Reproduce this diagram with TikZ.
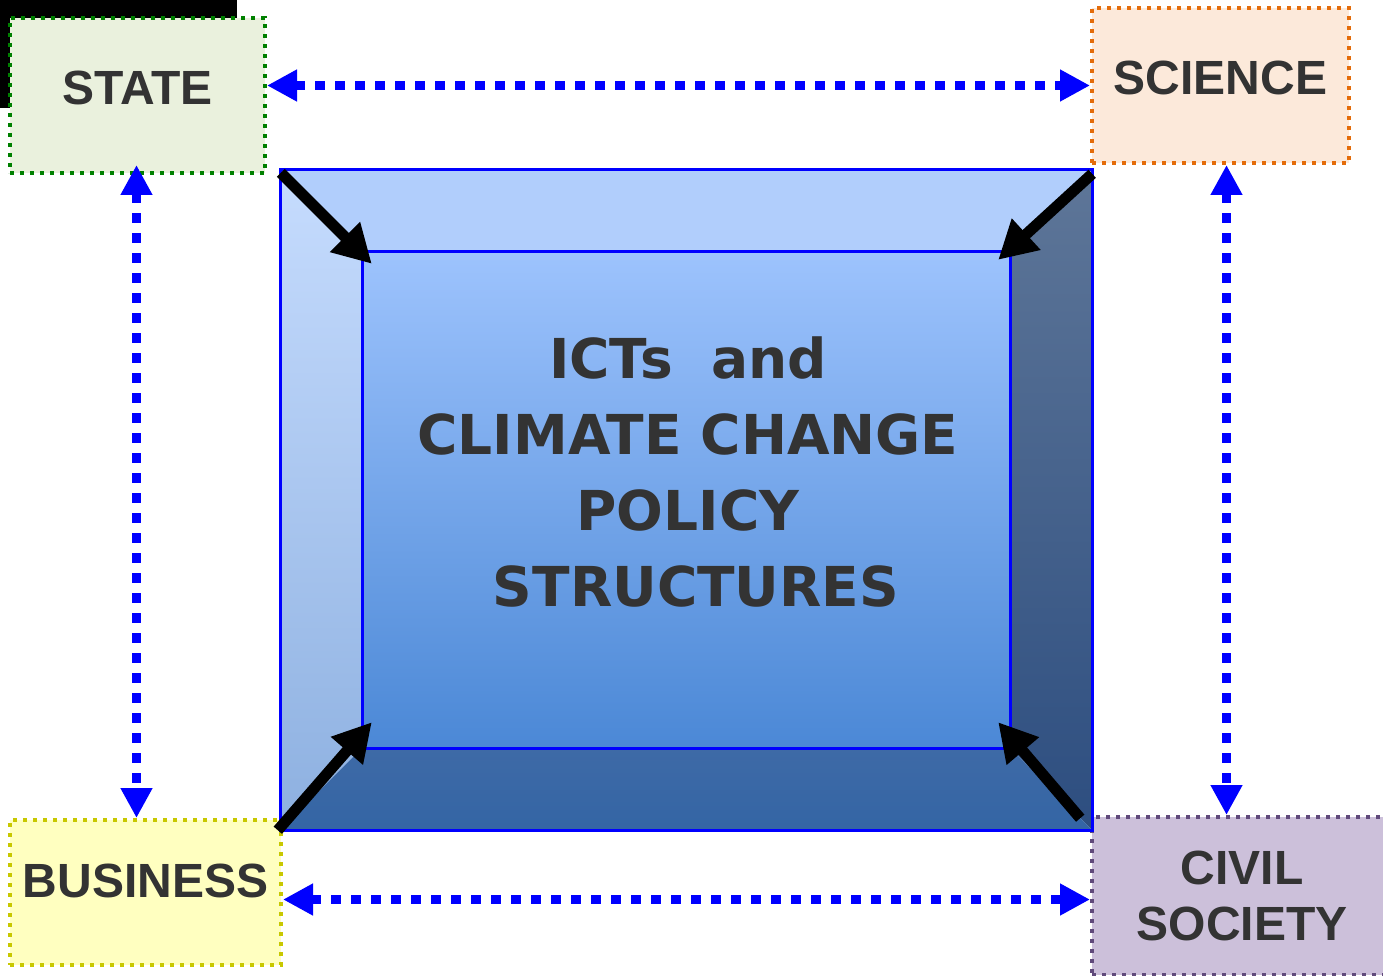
\documentclass[tikz,border=0pt]{standalone}
\usepackage{fontspec}
\setmainfont{Liberation Sans}
\newfontfamily\titlefont{DejaVu Sans}
\usepackage{xcolor}
\usetikzlibrary{arrows.meta}
\definecolor{txt}{HTML}{333333}
\definecolor{stategreen}{HTML}{008000}
\definecolor{statefill}{HTML}{EAF1DD}
\definecolor{sciorange}{HTML}{E46C0A}
\definecolor{scifill}{HTML}{FCE9DA}
\definecolor{busyellow}{HTML}{C8C800}
\definecolor{busfill}{HTML}{FFFFC0}
\definecolor{civpurple}{HTML}{604A7B}
\definecolor{civfill}{HTML}{CCC0DA}

\begin{document}
\begin{tikzpicture}[x=1pt,y=-1pt,
  party/.style={line width=4pt,dash pattern=on 4pt off 6pt,inner sep=0pt,align=center,
    text=txt,font=\bfseries\fontsize{48}{56}\selectfont},
  link/.style={blue,line width=9pt,dash pattern=on 10pt off 10pt,
    {Triangle[length=30pt,width=30pt]}-{Triangle[length=30pt,width=30pt]}},
  push/.style={line width=11pt,-{Triangle[length=38pt,width=40pt]}},
  frame/.style={draw=blue,line width=3pt,inner sep=0pt}]
\useasboundingbox (0,0) rectangle (1383,976);
\fill[black] (0,0) rectangle (237,108);
\node[party,draw=stategreen,fill=statefill,minimum width=255pt,minimum height=155pt,text depth=16pt]
  (state) at (137.5,95.5) {STATE};
\node[party,draw=sciorange,fill=scifill,minimum width=257pt,minimum height=155pt,text depth=16pt]
  (science) at (1220.5,85.5) {SCIENCE};
\node[party,draw=busyellow,fill=busfill,minimum width=271pt,minimum height=145pt,text depth=24pt]
  (business) at (145.5,892.5) {BUSINESS};
\node[party,draw=civpurple,fill=civfill,minimum width=300pt,minimum height=158pt]
  (civil) at (1242,896) {CIVIL\\SOCIETY};
\node[minimum width=812pt,minimum height=660pt,inner sep=0pt] (outer) at (686,500) {};
\node[minimum width=648pt,minimum height=496pt,inner sep=0pt] (core) at (686,500) {};
\fill[fill={rgb,255:red,177;green,206;blue,252}]
  (outer.north west) -- (outer.north east) -- (core.north east) -- (core.north west) -- cycle;
\shade[top color={rgb,255:red,198;green,220;blue,254},bottom color={rgb,255:red,141;green,176;blue,224}]
  (outer.north west) -- (core.north west) -- (core.south west) -- (outer.south west) -- cycle;
\shade[top color={rgb,255:red,94;green,118;blue,152},bottom color={rgb,255:red,45;green,78;blue,128}]
  (outer.north east) -- (core.north east) -- (core.south east) -- (outer.south east) -- cycle;
\shade[top color={rgb,255:red,62;green,106;blue,166},bottom color={rgb,255:red,52;green,101;blue,165}]
  (outer.south west) -- (core.south west) -- (core.south east) -- (outer.south east) -- cycle;
\shade[top color={rgb,255:red,157;green,195;blue,253},bottom color={rgb,255:red,75;green,136;blue,214}]
  (core.north west) rectangle (core.south east);
\node[frame,minimum width=812pt,minimum height=660pt] at (outer) {};
\node[frame,minimum width=648pt,minimum height=496pt] at (core) {};
\node[align=center,text=txt,font=\titlefont\bfseries\fontsize{55}{76}\selectfont]
  (title) at (688,472) {ICTs~~and\\CLIMATE CHANGE\\POLICY\\\hspace*{16pt}STRUCTURES};
\draw[push] ([shift={(1pt,-3pt)}]outer.north west) -- ([shift={(10pt,-12pt)}]core.north west);
\draw[push] ([shift={(0pt,-4pt)}]outer.north east) -- ([shift={(-12pt,-8pt)}]core.north east);
\draw[push] ([shift={(-2pt,0pt)}]outer.south west) -- ([shift={(10pt,26pt)}]core.south west);
\draw[push] ([shift={(-12pt,12pt)}]outer.south east) -- ([shift={(-12pt,26pt)}]core.south east);
\draw[link] (state.east |- science.west) -- (science.west);
\draw[link] ([yshift=-7pt]business.east) -- ([yshift=-7pt]business.east -| civil.west);
\draw[link] ([shift={(-1pt,10pt)}]state.south) -- ([xshift=-1pt]state.south |- business.north);
\draw[link] ([shift={(6pt,0pt)}]science.south) -- ([xshift=6pt]science.south |- civil.north);
\end{tikzpicture}
\end{document}
